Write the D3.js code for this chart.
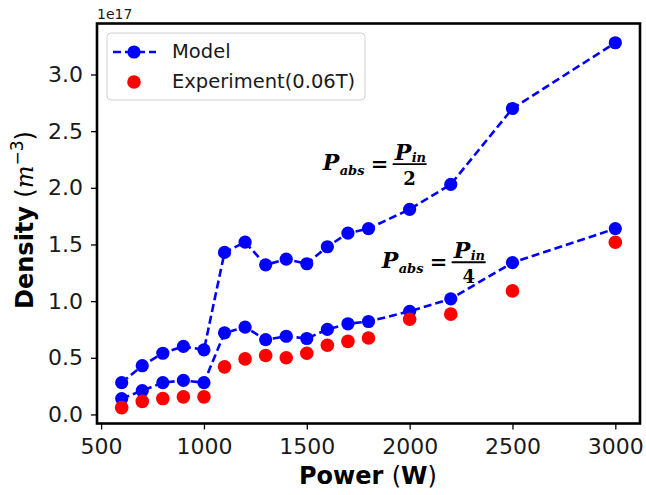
<!DOCTYPE html>
<html>
<head>
<meta charset="utf-8">
<script src="https://cdn.jsdelivr.net/npm/d3@7/dist/d3.min.js"></script>
<style>
  html, body { margin: 0; padding: 0; background: #fff; }
  svg { display: block; }
</style>
</head>
<body>
<svg id="chart" width="646" height="495"></svg>
<script>
// ---- data (density in units of 1e17 m^-3) ----
const powerModel = [600, 700, 800, 900, 1000, 1100, 1200, 1300, 1400, 1500, 1600, 1700, 1800, 2000, 2200, 2500, 3000];
const modelHalf = [0.28, 0.43, 0.54, 0.60, 0.57, 1.43, 1.52, 1.32, 1.37, 1.33, 1.48, 1.60, 1.64, 1.81, 2.03, 2.70, 3.28];
const modelQuarter = [0.14, 0.21, 0.28, 0.30, 0.28, 0.72, 0.77, 0.66, 0.69, 0.67, 0.75, 0.80, 0.82, 0.91, 1.02, 1.34, 1.64];
const powerExp = [600, 700, 800, 900, 1000, 1100, 1200, 1300, 1400, 1500, 1600, 1700, 1800, 2000, 2200, 2500, 3000];
const experiment = [0.06, 0.115, 0.14, 0.155, 0.155, 0.42, 0.49, 0.52, 0.50, 0.54, 0.61, 0.645, 0.675, 0.84, 0.885, 1.09, 1.52];
const xTicks = [500, 1000, 1500, 2000, 2500, 3000];
const yTicks = [0.0, 0.5, 1.0, 1.5, 2.0, 2.5, 3.0];
const legendLabels = ["Model", "Experiment(0.06T)"];
// annotation anchors (data coords) and denominators
const annotations = [
  { power: 1577, density: 2.156, denom: "2" },
  { power: 1864, density: 1.29, denom: "4" }
];

(function () {
const svg = d3.select("#chart");
svg.append("rect").attr("width", 646).attr("height", 495).attr("fill", "#fff");

const pL = 97, pR = 640, pT = 23.5, pB = 423.5;
const x = d3.scaleLinear().domain([480, 3120]).range([pL, pR]);
const y = d3.scaleLinear().domain([-0.08, 3.45]).range([pB, pT]);

const BLUE = "#0000ff", RED = "#ff0000";
const tickFont = "'DejaVu Sans', sans-serif";

// axes
const xAxis = d3.axisBottom(x).tickValues(xTicks).tickSize(6).tickPadding(9).tickFormat(d3.format("d"));
const gx = svg.append("g").attr("transform", `translate(0,${pB})`).call(xAxis);
const yAxis = d3.axisLeft(y).tickValues(yTicks).tickSize(6).tickPadding(8).tickFormat(d3.format(".1f"));
const gy = svg.append("g").attr("transform", `translate(${pL},0)`).call(yAxis);
[gx, gy].forEach(g => {
  g.select(".domain").remove();
  g.selectAll(".tick line").attr("stroke", "#000").attr("stroke-width", 1.3);
  g.selectAll(".tick text").attr("fill", "#1a1a1a").style("font-family", tickFont).style("font-size", "22px");
});

// lines
const line = d3.line().x((d, i) => x(powerModel[i])).y(d => y(d));
[modelHalf, modelQuarter].forEach(series => {
  svg.append("path").datum(series).attr("d", line)
    .attr("fill", "none").attr("stroke", BLUE).attr("stroke-width", 2.6)
    .attr("stroke-dasharray", "8,4");
});
[modelHalf, modelQuarter].forEach(series => {
  svg.append("g").selectAll("circle").data(series).join("circle")
    .attr("cx", (d, i) => x(powerModel[i])).attr("cy", d => y(d))
    .attr("r", 6.6).attr("fill", BLUE);
});
svg.append("g").selectAll("circle").data(experiment).join("circle")
  .attr("cx", (d, i) => x(powerExp[i])).attr("cy", d => y(d))
  .attr("r", 6.8).attr("fill", RED);

// frame
svg.append("rect").attr("x", pL).attr("y", pT).attr("width", pR - pL).attr("height", pB - pT)
  .attr("fill", "none").attr("stroke", "#000").attr("stroke-width", 2.6);

// offset text
svg.append("text").attr("x", 97).attr("y", 19).text("1e17")
  .style("font-family", tickFont).style("font-size", "14px").attr("fill", "#1a1a1a");

// axis labels
const xl = svg.append("text").attr("x", 368).attr("y", 484).attr("text-anchor", "middle")
  .style("font-family", tickFont).style("font-size", "24px").attr("fill", "#000");
xl.append("tspan").style("font-weight", "bold").text("Power ");
xl.append("tspan").text("(");
xl.append("tspan").style("font-weight", "bold").text("W");
xl.append("tspan").text(")");

const yl = svg.append("text").attr("transform", "translate(33,220) rotate(-90)").attr("text-anchor", "middle")
  .style("font-family", tickFont).style("font-size", "24px").attr("fill", "#000");
yl.append("tspan").style("font-weight", "bold").text("Density ");
yl.append("tspan").text("(");
yl.append("tspan").style("font-family", "'DejaVu Serif', serif").style("font-style", "italic").text("m");
yl.append("tspan").attr("dy", -10).style("font-size", "17px").text("\u22123");
yl.append("tspan").attr("dy", 10).text(")");

// legend
const lg = svg.append("g");
lg.append("rect").attr("x", 107).attr("y", 33).attr("width", 258).attr("height", 67).attr("rx", 4)
  .attr("fill", "#fff").attr("fill-opacity", 0.8).attr("stroke", "#d0d0d0").attr("stroke-width", 1);
lg.append("line").attr("x1", 113).attr("x2", 156).attr("y1", 52).attr("y2", 52)
  .attr("stroke", BLUE).attr("stroke-width", 2.6).attr("stroke-dasharray", "8,4");
lg.append("circle").attr("cx", 134).attr("cy", 52).attr("r", 6.6).attr("fill", BLUE);
lg.append("circle").attr("cx", 134).attr("cy", 82).attr("r", 6.8).attr("fill", RED);
lg.selectAll("text.lab").data(legendLabels).join("text").attr("class", "lab")
  .attr("x", 172).attr("y", (d, i) => 58 + i * 30).text(d => d)
  .style("font-family", tickFont).style("font-size", "19.5px").attr("fill", "#1a1a1a");

// annotations P_abs = P_in / n
const serif = "'DejaVu Serif', serif";
annotations.forEach(a => {
  const ax = x(a.power), ay = y(a.density);
  const g = svg.append("g").attr("transform", `translate(${ax},${ay})`)
    .style("font-family", serif).style("font-weight", "bold").attr("fill", "#000");
  g.append("text").attr("x", 0).attr("y", 0).style("font-style", "italic").style("font-size", "22px").text("P");
  g.append("text").attr("x", 17).attr("y", 5).style("font-style", "italic").style("font-size", "13px").text("abs");
  g.append("text").attr("x", 48).attr("y", 1).style("font-size", "21px").text("=");
  g.append("line").attr("x1", 70).attr("x2", 104).attr("y1", -6).attr("y2", -6)
    .attr("stroke", "#000").attr("stroke-width", 1.8);
  g.append("text").attr("x", 72).attr("y", -10).style("font-style", "italic").style("font-size", "22px").text("P");
  g.append("text").attr("x", 89).attr("y", -8).style("font-style", "italic").style("font-size", "13px").text("in");
  g.append("text").attr("x", 87).attr("y", 15).attr("text-anchor", "middle").style("font-size", "18px").text(a.denom);
});
})();
</script>
</body>
</html>
